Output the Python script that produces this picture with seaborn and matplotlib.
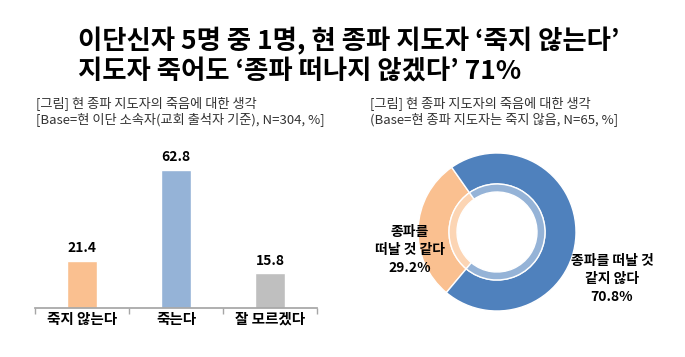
import matplotlib
matplotlib.use("Agg")
import matplotlib.pyplot as plt
import pandas as pd
import seaborn as sns

# left chart: thoughts on the current leader's death
bar_cats = ["죽지 않는다", "죽는다", "잘 모르겠다"]
bar_vals = [21.4, 62.8, 15.8]
bar_colors = ["#FAC090", "#95B3D7", "#BFBFBF"]

# right chart: would leave the sect
pie_labels = ["종파를\n떠날 것 같다\n29.2%", "종파를 떠날 것\n같지 않다\n70.8%"]
pie_vals = [29.2, 70.8]
pie_colors = ["#FAC090", "#4F81BD"]
pie_inner_colors = ["#FCD5B4", "#95B3D7"]

title = "이단신자 5명 중 1명, 현 종파 지도자 ‘죽지 않는다’\n지도자 죽어도 ‘종파 떠나지 않겠다’ 71%"
sub_left = "[그림] 현 종파 지도자의 죽음에 대한 생각\n[Base=현 이단 소속자(교회 출석자 기준), N=304, %]"
sub_right = "[그림] 현 종파 지도자의 죽음에 대한 생각\n(Base=현 종파 지도자는 죽지 않음, N=65, %]"

sns.set_theme(style="white")
plt.rcParams["font.family"] = ["Noto Sans CJK KR", "DejaVu Sans"]

W, H = 685, 357
fig = plt.figure(figsize=(W / 100, H / 100), dpi=100)

fig.text(78 / W, 1 - 27 / H, title, ha="left", va="top", fontsize=19,
         fontweight="bold", color="black", linespacing=1.18)
fig.text(36 / W, 1 - 96 / H, sub_left, ha="left", va="top", fontsize=9.5,
         color="#333333", linespacing=1.2)
fig.text(370 / W, 1 - 96 / H, sub_right, ha="left", va="top", fontsize=9.5,
         color="#333333", linespacing=1.2)

# bar chart
ax = fig.add_axes([35 / W, 1 - 308 / H, 282 / W, 154 / H])
df = pd.DataFrame({"cat": bar_cats, "val": bar_vals})
sns.barplot(data=df, x="cat", y="val", hue="cat", palette=bar_colors,
            width=0.32, legend=False, ax=ax, saturation=1)
ax.set_xlim(-0.5, 2.5)
ax.set_ylim(0, 70)
for p, v in zip(ax.patches, bar_vals):
    ax.annotate(f"{v:.1f}", (p.get_x() + p.get_width() / 2, p.get_height()),
                xytext=(0, 4), textcoords="offset points", ha="center",
                va="bottom", fontsize=10, fontweight="bold", color="black")
ax.set_xlabel("")
ax.set_ylabel("")
ax.set_yticks([])
for s in ["top", "right", "left"]:
    ax.spines[s].set_visible(False)
ax.spines["bottom"].set_color("#A6A6A6")
ax.set_xticks([0, 1, 2])
ax.set_xticklabels(bar_cats, fontsize=10.5, fontweight="bold", color="black")
ax.tick_params(axis="x", length=0, pad=2)
ax.set_xticks([-0.5, 0.5, 1.5, 2.5], minor=True)
ax.tick_params(axis="x", which="minor", length=4, color="#A6A6A6",
               direction="out", bottom=True)

# donut chart
ax2 = fig.add_axes([397 / W, 1 - 332 / H, 200 / W, 200 / H])
ax2.pie(pie_vals, colors=pie_colors, startangle=125, counterclock=True,
        radius=0.79, wedgeprops=dict(width=0.31, edgecolor="white", linewidth=1))
ax2.pie(pie_vals, colors=pie_inner_colors, startangle=125, counterclock=True,
        radius=0.48, wedgeprops=dict(width=0.08, edgecolor="white", linewidth=1))
ax2.set_xlim(-1, 1)
ax2.set_ylim(-1, 1)
ax2.set_aspect("auto")
ax2.axis("off")

fig.text(410 / W, 1 - 250 / H, pie_labels[0], ha="center", va="center",
         fontsize=10, fontweight="bold", color="black", linespacing=1.4)
fig.text(612 / W, 1 - 279 / H, pie_labels[1], ha="center", va="center",
         fontsize=10, fontweight="bold", color="black", linespacing=1.4)

fig.savefig("out.png", dpi=100)
